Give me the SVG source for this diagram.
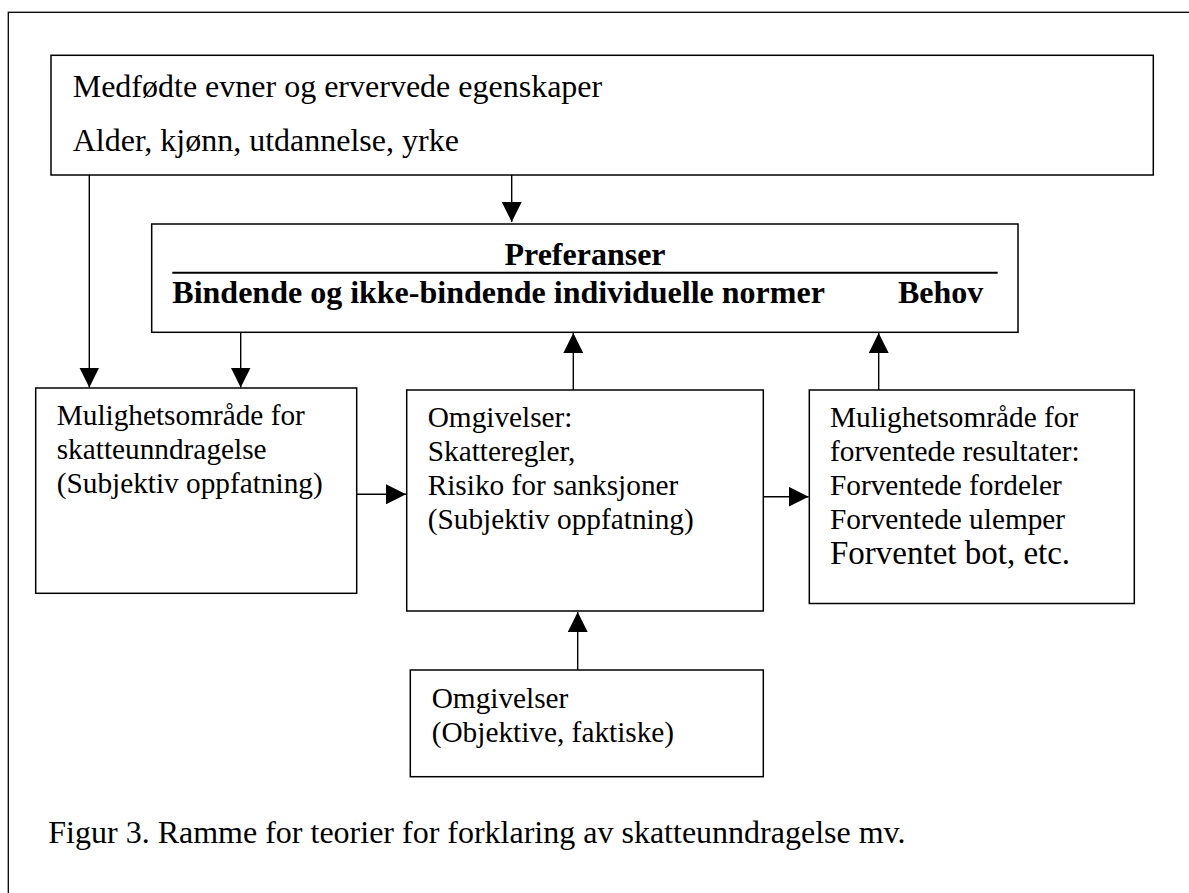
<svg xmlns="http://www.w3.org/2000/svg" width="1189" height="893" viewBox="0 0 1189 893">
<defs>
<marker id="ah" markerUnits="userSpaceOnUse" markerWidth="20" markerHeight="20" refX="20" refY="10" orient="auto">
<path d="M0,0 L20,10 L0,20 Z" fill="#000"/>
</marker>
<style>
.box{fill:#fff;stroke:#000;stroke-width:1.5}
.t{font-family:"Liberation Serif","Times New Roman",serif;font-size:29.3px;fill:#000}
.tl{font-family:"Liberation Serif","Times New Roman",serif;font-size:32px;fill:#000}
.tb{font-family:"Liberation Serif","Times New Roman",serif;font-size:32px;font-weight:bold;fill:#000}
.c{stroke:#000;stroke-width:1.4;fill:none;marker-end:url(#ah)}
</style>
</defs>
<rect width="1189" height="893" fill="#fff"/>
<rect x="8.3" y="12.3" width="1200" height="900" fill="none" stroke="#000" stroke-width="1.3"/>

<g id="connectors">
<line class="c" x1="89.3" y1="175" x2="89.3" y2="387.5"/>
<line class="c" x1="511.7" y1="175" x2="511.7" y2="222"/>
<line class="c" x1="240.7" y1="332.5" x2="240.7" y2="387.5"/>
<line class="c" x1="573.3" y1="390" x2="573.3" y2="333"/>
<line class="c" x1="878.7" y1="390" x2="878.7" y2="333"/>
<line class="c" x1="356.7" y1="494.3" x2="406" y2="494.3"/>
<line class="c" x1="763.3" y1="496.7" x2="808.6" y2="496.7"/>
<line class="c" x1="577.7" y1="670" x2="577.7" y2="612"/>
</g>

<g id="top-box">
<rect class="box" x="51" y="55.3" width="1102.3" height="119.7"/>
<text class="tl" x="72.7" y="96.7">Medfødte evner og ervervede egenskaper</text>
<text class="tl" x="72.7" y="150.7">Alder, kjønn, utdannelse, yrke</text>
</g>

<g id="preferanser">
<rect class="box" x="151.7" y="224" width="866.3" height="108.3"/>
<text class="tb" x="585" y="265" text-anchor="middle">Preferanser</text>
<line x1="172.3" y1="272.7" x2="997.7" y2="272.7" stroke="#000" stroke-width="2"/>
<text class="tb" x="172.3" y="303">Bindende og ikke-bindende individuelle normer</text>
<text class="tb" x="898" y="303">Behov</text>
</g>

<g id="mulighet-skatt">
<rect class="box" x="35.7" y="388" width="321" height="205.3"/>
<text class="t" x="56.7" y="425.3">Mulighetsområde for</text>
<text class="t" x="56.7" y="459">skatteunndragelse</text>
<text class="t" x="56.7" y="493">(Subjektiv oppfatning)</text>
</g>

<g id="omgivelser-subj">
<rect class="box" x="406.7" y="390" width="356.6" height="221"/>
<text class="t" x="427.7" y="426.7">Omgivelser:</text>
<text class="t" x="427.7" y="461">Skatteregler,</text>
<text class="t" x="427.7" y="495">Risiko for sanksjoner</text>
<text class="t" x="427.7" y="528.5">(Subjektiv oppfatning)</text>
</g>

<g id="mulighet-resultat">
<rect class="box" x="809.3" y="390" width="325" height="213.5"/>
<text class="t" x="830" y="426.7">Mulighetsområde for</text>
<text class="t" x="830" y="461">forventede resultater:</text>
<text class="t" x="830" y="495">Forventede fordeler</text>
<text class="t" x="830" y="528.5">Forventede ulemper</text>
<text class="tl" x="830" y="564" style="font-size:33px">Forventet bot, etc.</text>
</g>

<g id="omgivelser-obj">
<rect class="box" x="410.3" y="670" width="353" height="106.7"/>
<text class="t" x="431.7" y="708.3">Omgivelser</text>
<text class="t" x="431.7" y="741.7">(Objektive, faktiske)</text>
</g>

<text class="tl" x="48.3" y="843.3">Figur 3. Ramme for teorier for forklaring av skatteunndragelse mv.</text>
</svg>
